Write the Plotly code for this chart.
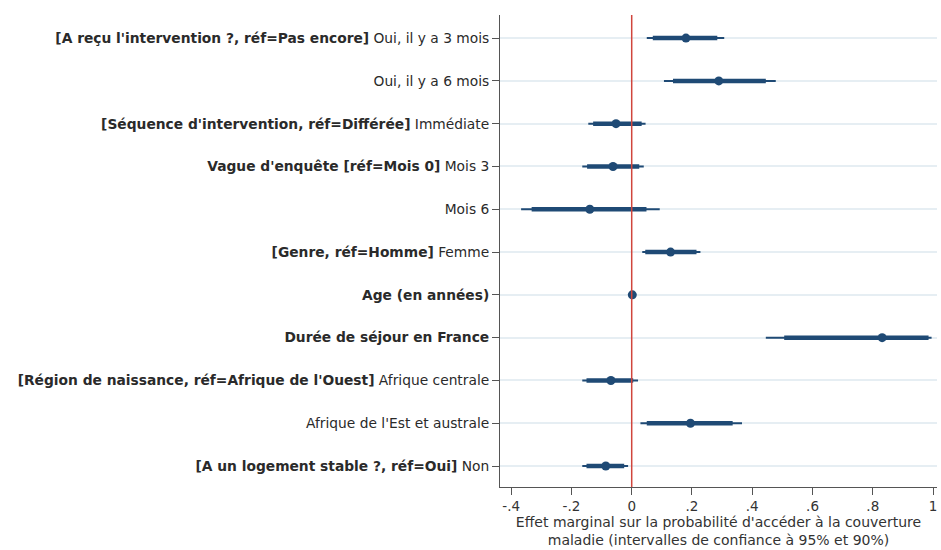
import plotly.graph_objects as go

labels = [
    "<b>[A reçu l'intervention ?, réf=Pas encore]</b> Oui, il y a 3 mois",
    "Oui, il y a 6 mois",
    "<b>[Séquence d'intervention, réf=Différée]</b> Immédiate",
    "<b>Vague d'enquête [réf=Mois 0]</b> Mois 3",
    "Mois 6",
    "<b>[Genre, réf=Homme]</b> Femme",
    "<b>Age (en années)</b>",
    "<b>Durée de séjour en France</b>",
    "<b>[Région de naissance, réf=Afrique de l'Ouest]</b> Afrique centrale",
    "Afrique de l'Est et australe",
    "<b>[A un logement stable ?, réf=Oui]</b> Non",
]
estimate = [0.180, 0.289, -0.052, -0.062, -0.139, 0.129, 0.002, 0.831, -0.069, 0.195, -0.086]
ci95_lo = [0.050, 0.107, -0.144, -0.164, -0.367, 0.035, -0.004, 0.445, -0.164, 0.029, -0.164]
ci95_hi = [0.307, 0.478, 0.046, 0.040, 0.093, 0.228, 0.008, 0.995, 0.021, 0.366, -0.012]
ci90_lo = [0.070, 0.137, -0.128, -0.148, -0.332, 0.045, -0.003, 0.506, -0.150, 0.050, -0.150]
ci90_hi = [0.284, 0.445, 0.033, 0.025, 0.049, 0.215, 0.006, 0.985, 0.005, 0.335, -0.025]
xticks = [-0.4, -0.2, 0, 0.2, 0.4, 0.6, 0.8, 1.0]
xticklabels = ["-.4", "-.2", "0", ".2", ".4", ".6", ".8", "1"]

rows = list(range(len(labels)))
navy = "#1f4a75"

def seg(lo, hi):
    xs, ys = [], []
    for i in rows:
        xs += [lo[i], hi[i], None]
        ys += [i, i, None]
    return xs, ys

fig = go.Figure()
x95, y95 = seg(ci95_lo, ci95_hi)
fig.add_trace(go.Scatter(x=x95, y=y95, mode="lines", line=dict(color=navy, width=2), hoverinfo="skip"))
x90, y90 = seg(ci90_lo, ci90_hi)
fig.add_trace(go.Scatter(x=x90, y=y90, mode="lines", line=dict(color=navy, width=4.5), hoverinfo="skip"))
fig.add_trace(go.Scatter(x=estimate, y=rows, mode="markers", marker=dict(color=navy, size=9)))

fig.add_shape(type="line", xref="x", yref="paper", x0=0, x1=0, y0=0, y1=1,
              line=dict(color="#d0453c", width=1.5))

fnt = "DejaVu Sans, Verdana, sans-serif"
fig.update_layout(
    width=941, height=550,
    margin=dict(l=500, r=4, t=15, b=63),
    plot_bgcolor="white", paper_bgcolor="white",
    showlegend=False,
    font=dict(family=fnt, size=13, color="#333333"),
    xaxis=dict(
        range=[-0.437, 1.013], tickvals=xticks, ticktext=xticklabels,
        showgrid=False, zeroline=False, showline=True, linecolor="#555555", linewidth=1,
        ticks="outside", ticklen=7, tickcolor="#555555",
        tickfont=dict(family=fnt, size=13.5, color="#333333"),
        title=dict(text="Effet marginal sur la probabilité d'accéder à la couverture<br>maladie (intervalles de confiance à 95% et 90%)",
                   font=dict(family=fnt, size=14, color="#333333"), standoff=0),
    ),
    yaxis=dict(
        range=[10.49, -0.54], tickvals=rows, ticktext=labels,
        showgrid=True, gridcolor="#e6eef3", gridwidth=1.5, zeroline=False,
        showline=True, linecolor="#555555", linewidth=1,
        ticks="outside", ticklen=7, tickcolor="#555555",
        tickfont=dict(family=fnt, size=13.8, color="#2a2a2a"),
    ),
)

fig.write_html("out.html")
